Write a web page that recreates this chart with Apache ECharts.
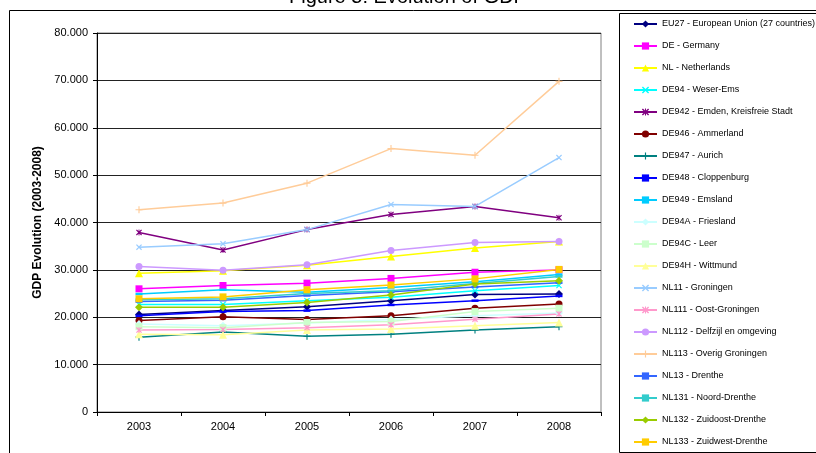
<!DOCTYPE html>
<html>
<head>
<meta charset="utf-8">
<script src="https://cdn.jsdelivr.net/npm/echarts@6/dist/echarts.min.js"></script>
<style>
  html, body { margin: 0; padding: 0; background: #fff; }
  #chart { width: 816px; height: 453px; }
</style>
</head>
<body>
<div id="chart"></div>
<script>
// Regional GDP per inhabitant, 2003-2008
const years = ['2003', '2004', '2005', '2006', '2007', '2008'];
const yTicks = [0, 10000, 20000, 30000, 40000, 50000, 60000, 70000, 80000];

const eu27  = [20600, 21400, 22200, 23500, 24800, 24900];
const de    = [26000, 26700, 27200, 28200, 29500, 30000];
const nl    = [29300, 29800, 31000, 32800, 34600, 36000];
const de94  = [22700, 22700, 23500, 24200, 25600, 26700];
const de942 = [37900, 34200, 38500, 41700, 43400, 41000];
const de946 = [19300, 20100, 19500, 20300, 21900, 22800];
const de947 = [15800, 16900, 16000, 16400, 17300, 18000];
const de948 = [20300, 21200, 21400, 22600, 23500, 24500];
const de949 = [24900, 25800, 25300, 26300, 27500, 29000];
const de94a = [18600, 18200, 18800, 19500, 20300, 20900];
const de94c = [18000, 17800, 18900, 19100, 21200, 21900];
const de94h = [16400, 16300, 17300, 17500, 18200, 18900];
const nl11  = [34800, 35500, 38500, 43800, 43400, 53700];
const nl111 = [17300, 17400, 17800, 18400, 19600, 20700];
const nl112 = [30700, 29900, 31100, 34100, 35800, 36000];
const nl113 = [42700, 44100, 48300, 55600, 54200, 69800];
const nl13  = [23300, 23600, 24600, 25400, 26400, 27300];
const nl131 = [23700, 23900, 25000, 25600, 27100, 28600];
const nl132 = [22100, 22100, 23100, 24700, 27000, 27700];
const nl133 = [23900, 24300, 25800, 26800, 28100, 30100];

// marker shapes
const X_MARK = 'path://M0,1.4L1.4,0L5,3.6L8.6,0L10,1.4L6.4,5L10,8.6L8.6,10L5,6.4L1.4,10L0,8.6L3.6,5Z';
const PLUS_MARK = 'path://M4.2,0h1.6v4.2h4.2v1.6h-4.2v4.2h-1.6v-4.2h-4.2v-1.6h4.2z';
const STAR_MARK = 'path://M0,1.4L1.4,0L5,3.6L8.6,0L10,1.4L6.4,5L10,8.6L8.6,10L5,6.4L1.4,10L0,8.6L3.6,5Z M4.3,0h1.4v10h-1.4z';
const DASH_MARK = 'path://M0,0h10v3h-10z';

const seriesDefs = [
  ['EU27 - European Union (27 countries)', eu27, '#000080', 'diamond', 8],
  ['DE - Germany', de, '#FF00FF', 'rect', 7],
  ['NL - Netherlands', nl, '#FFFF00', 'triangle', 8],
  ['DE94 - Weser-Ems', de94, '#00FFFF', X_MARK, 6],
  ['DE942 - Emden, Kreisfreie Stadt', de942, '#800080', STAR_MARK, 6],
  ['DE946 - Ammerland', de946, '#800000', 'circle', 7],
  ['DE947 - Aurich', de947, '#008080', PLUS_MARK, 7],
  ['DE948 - Cloppenburg', de948, '#0000FF', DASH_MARK, [7, 2.5]],
  ['DE949 - Emsland', de949, '#00CCFF', DASH_MARK, [7, 2.5]],
  ['DE94A - Friesland', de94a, '#CCFFFF', 'diamond', 8],
  ['DE94C - Leer', de94c, '#CCFFCC', 'rect', 7],
  ['DE94H - Wittmund', de94h, '#FFFF99', 'triangle', 8],
  ['NL11 - Groningen', nl11, '#99CCFF', X_MARK, 6],
  ['NL111 - Oost-Groningen', nl111, '#FF99CC', STAR_MARK, 6],
  ['NL112 - Delfzijl en omgeving', nl112, '#CC99FF', 'circle', 7],
  ['NL113 - Overig Groningen', nl113, '#FFCC99', PLUS_MARK, 7],
  ['NL13 - Drenthe', nl13, '#3366FF', DASH_MARK, [7, 2.5]],
  ['NL131 - Noord-Drenthe', nl131, '#33CCCC', DASH_MARK, [7, 2.5]],
  ['NL132 - Zuidoost-Drenthe', nl132, '#99CC00', 'diamond', 8],
  ['NL133 - Zuidwest-Drenthe', nl133, '#FFCC00', 'rect', 7]
];

function fmtThousands(v) {
  if (v === 0) return '0';
  return String(v).replace(/\B(?=(\d{3})+(?!\d))/g, '.');
}

const chart = echarts.init(document.getElementById('chart'), null, { renderer: 'canvas' });

chart.setOption({
  animation: false,
  backgroundColor: '#fff',
  textStyle: { fontFamily: 'Liberation Sans, Arial, sans-serif' },
  graphic: [
    {
      type: 'rect', z: 0, silent: true,
      shape: { x: 9.5, y: 10.5, width: 900, height: 500 },
      style: { fill: 'none', stroke: '#000', lineWidth: 1 }
    },
    {
      type: 'rect', z: 0, silent: true,
      shape: { x: 619.5, y: 13.5, width: 300, height: 439 },
      style: { fill: 'none', stroke: '#000', lineWidth: 1 }
    },
    {
      type: 'text', z: 10, silent: true,
      x: 408, y: 7,
      style: {
        text: 'Figure 5: Evolution of GDP',
        font: '20px Liberation Sans, Arial, sans-serif',
        fill: '#000', align: 'center', verticalAlign: 'bottom'
      }
    }
  ],
  grid: {
    left: 97, right: 215, top: 33, bottom: 41,
    show: true, borderColor: '#808080', borderWidth: 1, backgroundColor: '#fff'
  },
  legend: {
    orient: 'vertical',
    left: 633, top: 19.5, padding: 0,
    itemWidth: 23, itemHeight: 9, itemGap: 13,
    textStyle: { fontSize: 9, color: '#000', fontFamily: 'Liberation Sans, Arial, sans-serif' },
    data: seriesDefs.map(d => d[0])
  },
  xAxis: {
    type: 'category',
    data: years,
    boundaryGap: true,
    axisLine: { lineStyle: { color: '#000', width: 1 } },
    axisTick: { show: true, length: 4, lineStyle: { color: '#000' } },
    axisLabel: { color: '#000', fontSize: 11, margin: 9 },
    splitLine: { show: false }
  },
  yAxis: {
    type: 'value',
    min: yTicks[0], max: yTicks[yTicks.length - 1], interval: yTicks[1] - yTicks[0],
    name: 'GDP Evolution (2003-2008)',
    nameLocation: 'middle', nameGap: 53,
    nameTextStyle: { fontSize: 12, fontWeight: 'bold', color: '#000' },
    axisLine: { show: true, lineStyle: { color: '#000', width: 1 } },
    axisTick: { show: true, length: 4, lineStyle: { color: '#000' } },
    axisLabel: { color: '#000', fontSize: 11, margin: 9, formatter: fmtThousands },
    splitLine: { show: true, lineStyle: { color: '#222', width: 1 } }
  },
  series: seriesDefs.map(d => ({
    name: d[0],
    type: 'line',
    data: d[1],
    symbol: d[3],
    symbolSize: d[4],
    showSymbol: true,
    lineStyle: { color: d[2], width: 1.5 },
    itemStyle: { color: d[2], borderWidth: 0 },
    emphasis: { disabled: true }
  }))
});
</script>
</body>
</html>
